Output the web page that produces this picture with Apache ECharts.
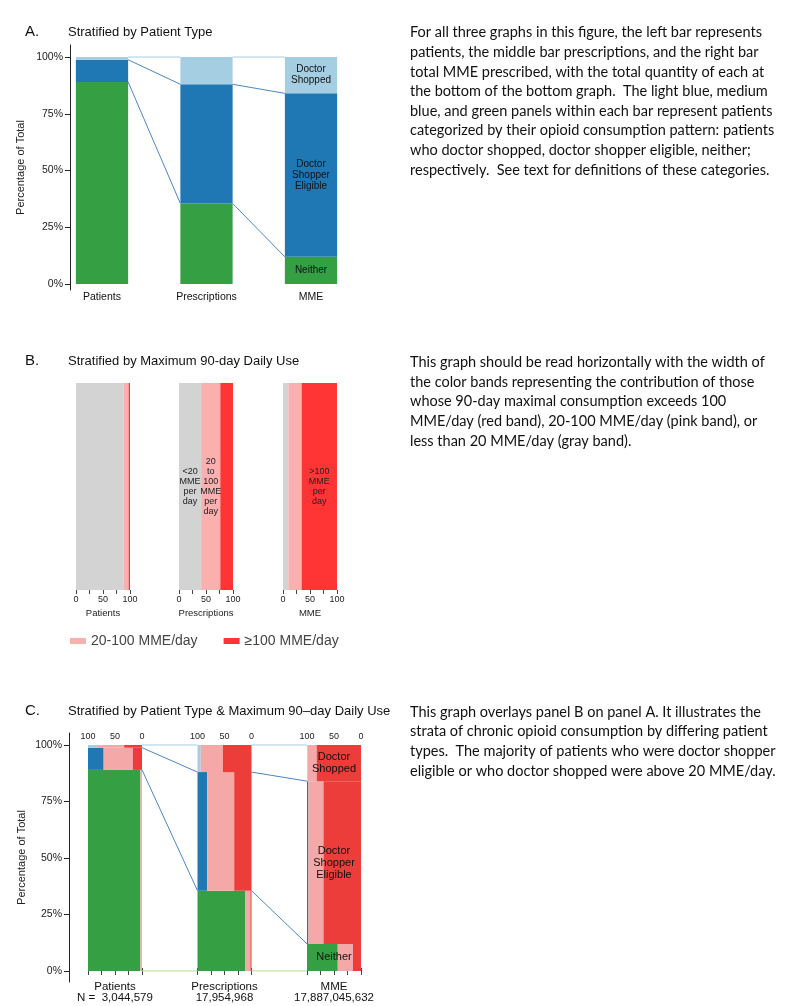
<!DOCTYPE html>
<html>
<head>
<meta charset="utf-8">
<title>Opioid consumption by patient type</title>
<script src="https://cdn.jsdelivr.net/npm/echarts@6.0.0/dist/echarts.min.js"></script>
<style>
  html, body { margin: 0; padding: 0; background: #fff; }
  #chart { width: 789px; height: 1006px; }
</style>
</head>
<body>
<div id="chart"></div>
<script>
// the three bars of every panel
const categories = ['Patients', 'Prescriptions', 'MME']
const totals = ['3,044,579', '17,954,968', '17,887,045,632']

// panel A - share of each bar by patient type (%)
const neither = [89, 35.5, 12]
const eligible = [9.8, 52.5, 72]
const shopped = [1.2, 12, 16]

// panel B - share of each bar by max 90-day daily use (%)
const under20 = [88, 41, 10]
const from20to100 = [9.5, 35.5, 24.5]
const over100 = [2.5, 23.5, 65.5]

// panel C - inside each patient type: [<20, 20-100, >=100] (%)
const neitherSplit = [[97, 3, 0], [88, 10, 2], [57, 28, 15]]
const eligibleSplit = [[29, 54, 17], [18, 50, 32], [2.5, 28, 69.5]]
const shoppedSplit = [[17, 50, 33], [6, 41, 53], [1, 17, 82]]

const typeNames = ['Neither', 'Doctor\nShopper\nEligible', 'Doctor\nShopped']
const bandNames = ['<20 MME/day', '20-100 MME/day', '≥100 MME/day']
const bandLabels = [
  [null, null, null],
  ['<20\nMME\nper\nday', '20\nto\n100\nMME\nper\nday', null],
  [null, null, '>100\nMME\nper\nday']
]
const pctTicks = [0, 25, 50, 75, 100]

const FONT = 'Liberation Sans'
const typeColors = ['#35a043', '#1f78b4', '#a6cee3']
const bandColorsB = ['#d3d3d3', '#fbb0b0', '#ff3535']
const cColors = typeColors.concat(['#f4a8a8', '#ec3d3a'])
const lineColors = ['#4a86c5', '#a6cee3', '#b2df8a']

const chart = echarts.init(document.getElementById('chart'))

const grids = []
const xAxes = []
const yAxes = []
const series = []

function pctAxis (grid, min, max, offset, gap) {
  return {
    gridIndex: grid,
    type: 'value',
    min: min,
    max: max,
    offset: offset,
    name: 'Percentage of Total',
    nameLocation: 'middle',
    nameGap: gap,
    nameTextStyle: { fontFamily: FONT, fontSize: 11, color: '#222' },
    axisLine: { show: true, lineStyle: { color: '#222', width: 1 } },
    axisTick: { show: true, length: 5, customValues: pctTicks, lineStyle: { color: '#222' } },
    axisLabel: { customValues: pctTicks, formatter: v => v + '%', fontFamily: FONT, fontSize: 10.5, color: '#222', margin: 7 },
    splitLine: { show: false }
  }
}

// lines joining a bar's right edge to the next bar's left edge
function connectorSeries (xIdx, yIdx, ratio, rows) {
  return {
    type: 'custom',
    xAxisIndex: xIdx,
    yAxisIndex: yIdx,
    silent: true,
    z: 5,
    encode: { x: 0, y: [1, 2] },
    data: rows,
    renderItem: (params, api) => {
      const i = api.value(0)
      const a = api.coord([i, api.value(1)])
      const b = api.coord([i + 1, api.value(2)])
      const half = api.size([1, 0])[0] * ratio / 2
      return {
        type: 'line',
        shape: { x1: a[0] + half, y1: a[1], x2: b[0] - half, y2: b[1] },
        style: { stroke: lineColors[api.value(3)], lineWidth: 1 }
      }
    }
  }
}

function connectorRows (withBottom) {
  const rows = []
  for (let i = 0; i < 2; i++) {
    rows.push([i, neither[i], neither[i + 1], 0])
    rows.push([i, neither[i] + eligible[i], neither[i + 1] + eligible[i + 1], 0])
    rows.push([i, 100, 100, 1])
    if (withBottom) rows.push([i, 0, 0, 2])
  }
  return rows
}

// ---------- panel A ----------
grids.push({ left: 49.75, top: 45, width: 313.5, height: 245 })
xAxes.push({
  gridIndex: 0,
  type: 'category',
  data: categories,
  axisLine: { show: false, onZero: false },
  axisTick: { show: false },
  axisLabel: { fontFamily: FONT, fontSize: 10.5, color: '#111', margin: 2 }
})
yAxes.push(pctAxis(0, -2.6, 105.3, -20.25, 43.5))

;[neither, eligible, shopped].forEach((arr, k) => {
  series.push({
    type: 'bar',
    name: typeNames[k],
    xAxisIndex: 0,
    yAxisIndex: 0,
    stack: 'A',
    barWidth: '50%',
    silent: true,
    itemStyle: { color: typeColors[k] },
    data: arr.map((v, i) => ({
      value: v,
      label: {
        show: i === 2,
        position: 'inside',
        formatter: typeNames[k],
        fontFamily: FONT,
        fontSize: 10,
        lineHeight: 11,
        color: '#111'
      }
    }))
  })
})
series.push(connectorSeries(0, 0, 0.5, connectorRows(false)))

// ---------- panel B ----------
const bLeft = [76, 179, 283]
categories.forEach((c, i) => {
  const g = grids.length
  grids.push({ left: bLeft[i], top: 383, width: 54, height: 207 })
  xAxes.push({
    gridIndex: g,
    type: 'value',
    min: 0,
    max: 100,
    interval: 25,
    name: c,
    nameLocation: 'middle',
    nameGap: 18,
    nameTextStyle: { fontFamily: FONT, fontSize: 9.5, color: '#222' },
    axisLine: { show: false },
    axisTick: { show: true, length: 4, lineStyle: { color: '#444' } },
    axisLabel: { formatter: v => (v % 50 === 0 ? v : ''), fontFamily: FONT, fontSize: 9, color: '#222', margin: 5 },
    splitLine: { show: false }
  })
  yAxes.push({ gridIndex: g, type: 'category', data: [c], show: false })
  ;[under20, from20to100, over100].forEach((arr, k) => {
    const txt = bandLabels[i][k]
    series.push({
      type: 'bar',
      name: bandNames[k],
      xAxisIndex: xAxes.length - 1,
      yAxisIndex: yAxes.length - 1,
      stack: 'B' + i,
      barWidth: '100%',
      silent: true,
      itemStyle: { color: bandColorsB[k] },
      data: [{
        value: arr[i],
        label: {
          show: !!txt,
          position: 'inside',
          formatter: txt || '',
          fontFamily: FONT,
          fontSize: 9,
          lineHeight: 10,
          color: '#222'
        }
      }]
    })
  })
})

// ---------- panel C ----------
const cMain = grids.length
grids.push({ left: 60.25, top: 733, width: 328.5, height: 249 })
xAxes.push({ gridIndex: cMain, type: 'category', data: categories, show: false })
yAxes.push(pctAxis(cMain, -4.9, 105.3, -8.75, 41.5))
const cX = xAxes.length - 1
const cY = yAxes.length - 1

const cLeft = [88, 197.5, 307]
const groups = [[neither, neitherSplit], [eligible, eligibleSplit], [shopped, shoppedSplit]]
categories.forEach((c, i) => {
  const g = grids.length
  grids.push({ left: cLeft[i], top: 745, width: 54, height: 226 })
  const top = xAxes.length
  xAxes.push({
    gridIndex: g,
    type: 'value',
    position: 'top',
    inverse: true,
    min: 0,
    max: 100,
    interval: 25,
    axisLine: { show: false },
    axisTick: { show: true, length: 3, lineStyle: { color: '#444' } },
    axisLabel: { formatter: v => (v % 50 === 0 ? v : ''), fontFamily: FONT, fontSize: 9, color: '#222', margin: 4 },
    splitLine: { show: false }
  })
  xAxes.push({
    gridIndex: g,
    type: 'value',
    position: 'bottom',
    inverse: true,
    min: 0,
    max: 100,
    interval: 25,
    name: c + '\n' + (i === 0 ? 'N =  ' : '') + totals[i],
    nameLocation: 'middle',
    nameGap: 10,
    nameTextStyle: { fontFamily: FONT, fontSize: 11.5, lineHeight: 11, color: '#111', verticalAlign: 'top' },
    axisLine: { show: false },
    axisTick: { show: true, length: 4, lineStyle: { color: '#444' } },
    axisLabel: { show: false },
    splitLine: { show: false }
  })
  yAxes.push({ gridIndex: g, type: 'value', min: 0, max: 100, show: false })

  const rows = []
  let base = 0
  groups.forEach(([share, split], k) => {
    const lo = base
    const hi = base + share[i]
    base = hi
    const [a, , r] = split[i]
    rows.push([100, 100 - a, lo, hi, k]) // patient-type colour = <20
    rows.push([100 - a, r, lo, hi, 3]) // 20-100
    rows.push([r, 0, lo, hi, 4]) // >=100
  })
  series.push({
    type: 'custom',
    xAxisIndex: top,
    yAxisIndex: yAxes.length - 1,
    silent: true,
    z: 2,
    encode: { x: [0, 1], y: [2, 3] },
    data: rows,
    renderItem: (params, api) => {
      const p0 = api.coord([api.value(0), api.value(3)])
      const p1 = api.coord([api.value(1), api.value(2)])
      return {
        type: 'rect',
        shape: {
          x: Math.min(p0[0], p1[0]),
          y: p0[1],
          width: Math.abs(p1[0] - p0[0]),
          height: p1[1] - p0[1]
        },
        style: { fill: cColors[api.value(4)] }
      }
    }
  })
})

series.push(connectorSeries(cX, cY, 54 / 109.5, connectorRows(true)))

// type labels over the MME column
const cLabelRows = []
let acc = 0
;[neither, eligible, shopped].forEach((arr, k) => {
  cLabelRows.push([2, acc + arr[2] / 2, k])
  acc += arr[2]
})
series.push({
  type: 'custom',
  xAxisIndex: cX,
  yAxisIndex: cY,
  silent: true,
  z: 6,
  encode: { x: 0, y: 1 },
  data: cLabelRows,
  renderItem: (params, api) => {
    const p = api.coord([api.value(0), api.value(1)])
    return {
      type: 'text',
      style: {
        text: typeNames[api.value(2)],
        x: p[0],
        y: p[1],
        align: 'center',
        verticalAlign: 'middle',
        fontFamily: FONT,
        fontSize: 11,
        lineHeight: 12,
        fill: '#111'
      }
    }
  }
})

// ---------- titles and notes ----------
const noteA = [
  'For all three graphs in this figure, the left bar represents',
  'patients, the middle bar prescriptions, and the right bar',
  'total MME prescribed, with the total quantity of each at',
  'the bottom of the bottom graph.  The light blue, medium',
  'blue, and green panels within each bar represent patients',
  'categorized by their opioid consumption pattern: patients',
  'who doctor shopped, doctor shopper eligible, neither;',
  'respectively.  See text for definitions of these categories.'
]
const noteB = [
  'This graph should be read horizontally with the width of',
  'the color bands representing the contribution of those',
  'whose 90-day maximal consumption exceeds 100',
  'MME/day (red band), 20-100 MME/day (pink band), or',
  'less than 20 MME/day (gray band).'
]
const noteC = [
  'This graph overlays panel B on panel A. It illustrates the',
  'strata of chronic opioid consumption by differing patient',
  'types.  The majority of patients who were doctor shopper',
  'eligible or who doctor shopped were above 20 MME/day.'
]

function label (x, y, text, size) {
  return { type: 'text', left: x, top: y, style: { text: text, fontFamily: FONT, fontSize: size, fill: '#111' } }
}
function note (y, lines, lh) {
  return { type: 'text', left: 410, top: y, style: { text: lines.join('\n'), fontFamily: 'Lato', fontSize: 14.5, lineHeight: lh, fill: '#111' } }
}

chart.setOption({
  animation: false,
  textStyle: { fontFamily: FONT },
  grid: grids.map(g => Object.assign({ containLabel: false, outerBoundsMode: 'none' }, g)),
  xAxis: xAxes,
  yAxis: yAxes,
  legend: {
    data: ['20-100 MME/day', '≥100 MME/day'],
    left: 70,
    top: 634,
    padding: 0,
    icon: 'rect',
    itemWidth: 16,
    itemHeight: 6,
    itemGap: 26,
    selectedMode: false,
    textStyle: { fontFamily: FONT, fontSize: 14, color: '#444' }
  },
  graphic: [
    label(25, 24, 'A.', 15),
    label(68, 26, 'Stratified by Patient Type', 13),
    label(25, 353, 'B.', 15),
    label(68, 355, 'Stratified by Maximum 90-day Daily Use', 13),
    label(25, 703, 'C.', 15),
    label(68, 705, 'Stratified by Patient Type & Maximum 90\u2013day Daily Use', 13),
    note(23, noteA, 19.6),
    note(352, noteB, 19.9),
    note(702, noteC, 19.7)
  ],
  series: series
})
</script>
</body>
</html>
